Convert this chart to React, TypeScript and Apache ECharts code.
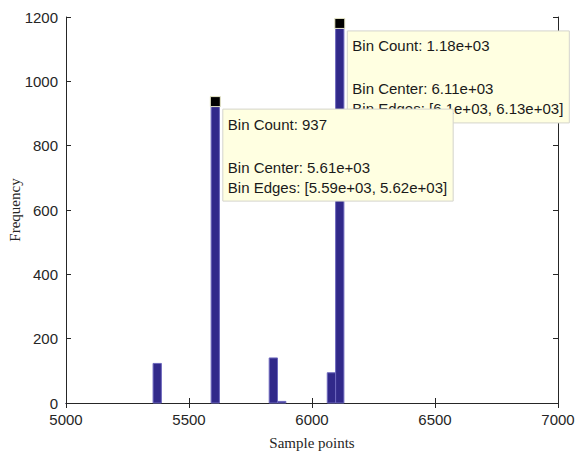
import React, { useEffect, useRef } from "react";
import * as echarts from "echarts";

// Histogram bins (left edge, count), bin width in data units
const binStarts = [5354, 5590, 5826, 5860, 6062, 6096];
const binCounts = [123, 937, 140, 5, 94, 1180];
const binWidth = 33.7;

// Data tips (bin center, count, text lines)
const tipCenters = [6113, 5607];
const tipCounts = [1180, 937];
const tipLines = [
  ["Bin Count: 1.18e+03", "", "Bin Center: 6.11e+03", "Bin Edges: [6.1e+03, 6.13e+03]"],
  ["Bin Count: 937", "", "Bin Center: 5.61e+03", "Bin Edges: [5.59e+03, 5.62e+03]"],
];

const xTicks = { min: 5000, max: 7000, interval: 500 };
const yTicks = { min: 0, max: 1200, interval: 200 };

const AX = "#262626";
const SANS = '"Liberation Sans", Arial, sans-serif';
const SERIF = '"Liberation Serif", "Times New Roman", serif';
const TIP_FONT = `15px ${SANS}`;

function measure(text: string): number {
  const c = document.createElement("canvas").getContext("2d");
  if (!c) return text.length * 7.5;
  c.font = TIP_FONT;
  return c.measureText(text).width;
}

const plain = (v: number) => String(v);

export default function App() {
  const ref = useRef<HTMLDivElement>(null);
  useEffect(() => {
    if (!ref.current) return;
    const chart = echarts.init(ref.current, undefined, { renderer: "svg" });
    const barData = binStarts.map((s, i) => [s, binCounts[i]]);
    const tipData = tipCenters.map((c, i) => [c, tipCounts[i], i]);
    const tickStyle = { show: true, inside: true, length: 5, lineStyle: { color: AX } };
    chart.setOption({
      animation: false,
      grid: { left: 66, right: 18, top: 17, bottom: 49, containLabel: false, outerBoundsMode: "none" },
      xAxis: [
        {
          type: "value",
          ...xTicks,
          name: "Sample points",
          nameLocation: "middle",
          nameGap: 32,
          nameMoveOverlap: false,
          nameTextStyle: { fontFamily: SERIF, fontSize: 15, color: AX },
          axisLine: { show: true, lineStyle: { color: "#4f49a3", width: 1 } },
          axisTick: tickStyle,
          axisLabel: { fontFamily: SANS, fontSize: 15, color: AX, margin: 9, formatter: plain },
          splitLine: { show: false },
        },
        {
          type: "value",
          ...xTicks,
          position: "top",
          axisLine: { show: true, lineStyle: { color: AX, width: 1 } },
          axisTick: tickStyle,
          axisLabel: { show: false },
          splitLine: { show: false },
        },
      ],
      yAxis: [
        {
          type: "value",
          ...yTicks,
          name: "Frequency",
          nameLocation: "middle",
          nameGap: 44,
          nameMoveOverlap: false,
          nameTextStyle: { fontFamily: SERIF, fontSize: 15, color: AX },
          axisLine: { show: true, lineStyle: { color: AX, width: 1 } },
          axisTick: tickStyle,
          axisLabel: { fontFamily: SANS, fontSize: 15, color: AX, margin: 8, formatter: plain },
          splitLine: { show: false },
        },
        {
          type: "value",
          ...yTicks,
          position: "right",
          axisLine: { show: true, lineStyle: { color: AX, width: 1 } },
          axisTick: tickStyle,
          axisLabel: { show: false },
          splitLine: { show: false },
        },
      ],
      series: [
        {
          type: "custom",
          data: barData,
          encode: { x: 0, y: 1 },
          renderItem: (_p: any, api: any) => {
            const s = api.value(0);
            const c = api.value(1);
            const p0 = api.coord([s, c]);
            const p1 = api.coord([s + binWidth, 0]);
            return {
              type: "rect",
              shape: { x: p0[0], y: p0[1], width: p1[0] - p0[0], height: p1[1] - p0[1] },
              style: { fill: "#31298a", stroke: "#6d68bd", lineWidth: 1 },
            };
          },
          z: 2,
        },
        {
          type: "custom",
          data: tipData,
          encode: { x: 0, y: 1 },
          clip: false,
          renderItem: (_p: any, api: any) => {
            const idx = api.value(2);
            const pt = api.coord([api.value(0), api.value(1)]);
            const lines = tipLines[idx];
            const w = Math.max(...lines.map(measure)) + 11;
            const bx = pt[0] + 7.5;
            const by = pt[1] + 7.5;
            const offs = [15, 36, 58, 78];
            const texts = lines
              .map((t, k) =>
                t
                  ? {
                      type: "text",
                      x: bx + 5,
                      y: by + offs[k],
                      style: { text: t, font: TIP_FONT, fill: "#1a1a1a", align: "left", verticalAlign: "middle" },
                    }
                  : null
              )
              .filter(Boolean);
            return {
              type: "group",
              children: [
                {
                  type: "rect",
                  shape: { x: bx, y: by, width: w, height: 92 },
                  style: { fill: "#ffffe1", stroke: "#d4d4cc", lineWidth: 1 },
                },
                ...texts,
                {
                  type: "rect",
                  shape: { x: pt[0] - 5, y: pt[1] - 5, width: 10, height: 10 },
                  style: { fill: "#000000", stroke: "#e8e8c8", lineWidth: 1 },
                },
              ],
            };
          },
          z: 5,
        },
      ],
    });
    return () => chart.dispose();
  }, []);
  return <div ref={ref} style={{ width: 576, height: 452, position: "absolute", left: 0, top: 0 }} />;
}
